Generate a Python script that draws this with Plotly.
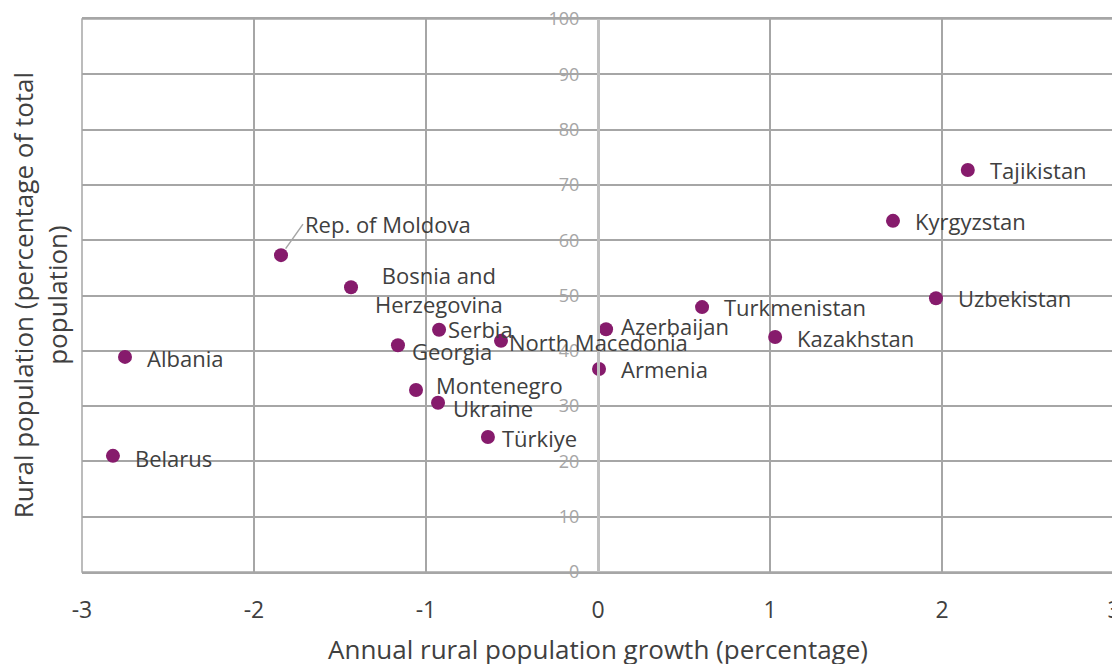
import plotly.graph_objects as go

countries = ["Tajikistan", "Kyrgyzstan", "Uzbekistan", "Kazakhstan", "Turkmenistan",
             "Azerbaijan", "Armenia", "North Macedonia", "Türkiye", "Ukraine",
             "Montenegro", "Serbia", "Georgia", "Bosnia and Herzegovina",
             "Rep. of Moldova", "Albania", "Belarus"]
growth = [2.15, 1.715, 1.965, 1.03, 0.605, 0.047, 0.006, -0.564, -0.64, -0.93,
          -1.058, -0.924, -1.163, -1.436, -1.843, -2.75, -2.82]
rural_pct = [72.7, 63.5, 49.5, 42.5, 47.9, 43.9, 36.7, 41.8, 24.4, 30.6,
             32.9, 43.8, 41.0, 51.5, 57.3, 38.9, 21.0]
x_ticks = [-3, -2, -1, 0, 1, 2, 3]
y_ticks = [0, 10, 20, 30, 40, 50, 60, 70, 80, 90, 100]

# label placement (pixel offsets from each point): xshift, yshift, anchor
label_pos = {
    "Tajikistan": (20, 0, "left"),
    "Kyrgyzstan": (20, 0, "left"),
    "Uzbekistan": (20, 0, "left"),
    "Kazakhstan": (20, -1, "left"),
    "Turkmenistan": (20, 0, "left"),
    "Azerbaijan": (13, 3, "left"),
    "Armenia": (20, 0, "left"),
    "North Macedonia": (6, -1, "left"),
    "Türkiye": (12, -1, "left"),
    "Ukraine": (13, -5, "left"),
    "Montenegro": (18, 5, "left"),
    "Serbia": (7, 1, "left"),
    "Georgia": (12, -6, "left"),
    "Albania": (20, -1, "left"),
    "Belarus": (20, -2, "left"),
}

TEXT = "#404040"
GRID = "#a6a6a6"
FONT = "Open Sans"
LBL = 22

fig = go.Figure()
fig.add_trace(go.Scatter(
    x=growth, y=rural_pct, mode="markers",
    marker=dict(color="#861B6C", size=14),
    hoverinfo="text", text=countries, showlegend=False,
))

annotations = []
for c, gx, ry in zip(countries, growth, rural_pct):
    if c == "Bosnia and Herzegovina":
        annotations.append(dict(x=gx, y=ry, text="Bosnia and<br>Herzegovina", showarrow=False,
                                xanchor="center", yanchor="middle", xshift=88, yshift=-2,
                                font=dict(family=FONT, size=LBL, color=TEXT)))
    elif c == "Rep. of Moldova":
        annotations.append(dict(x=gx, y=ry, text=c, showarrow=True, arrowhead=0,
                                arrowwidth=1.5, arrowcolor=GRID, ax=22, ay=-31,
                                standoff=8, xanchor="left", yanchor="middle",
                                font=dict(family=FONT, size=LBL, color=TEXT)))
    else:
        xs, ys, anc = label_pos[c]
        annotations.append(dict(x=gx, y=ry, text=c, showarrow=False, xanchor=anc,
                                yanchor="middle", xshift=xs, yshift=ys,
                                font=dict(family=FONT, size=LBL, color=TEXT)))

annotations.append(dict(
    xref="paper", yref="paper", x=-0.041, y=0.5,
    text="Rural population (percentage of total<br>population)",
    textangle=-90, showarrow=False, xanchor="center", yanchor="middle",
    font=dict(family=FONT, size=26, color=TEXT)))

fig.update_layout(
    width=1120, height=664,
    margin=dict(l=74, r=14, t=11, b=100, autoexpand=False),
    paper_bgcolor="white", plot_bgcolor="white",
    annotations=annotations,
    xaxis=dict(
        range=[-3, 3], tickvals=x_ticks, ticktext=[str(v) for v in x_ticks],
        showgrid=True, gridcolor=GRID, gridwidth=1.5, zeroline=False,
        showline=True, linecolor=GRID, linewidth=1.5, mirror=True,
        ticks="outside", ticklen=17, tickcolor="rgba(0,0,0,0)",
        tickfont=dict(family=FONT, size=23, color=TEXT),
        ticklabeloverflow="allow",
        title=dict(text="Annual rural population growth (percentage)",
                   font=dict(family=FONT, size=26, color=TEXT), standoff=16),
    ),
    yaxis=dict(
        range=[0, 100], tickvals=y_ticks, ticktext=[str(v) for v in y_ticks],
        anchor="free", position=0.5,
        showgrid=True, gridcolor=GRID, gridwidth=1.5, zeroline=False,
        showline=True, linecolor="#bfbfbf", linewidth=3,
        ticks="outside", ticklen=14, tickcolor="rgba(0,0,0,0)",
        tickfont=dict(family=FONT, size=18, color="#a6a6a6"),
        ticklabeloverflow="allow",
    ),
    shapes=[dict(type="rect", xref="x domain", yref="y domain", x0=0, x1=1, y0=0, y1=1,
                 line=dict(color=GRID, width=1.5), layer="below")],
)

fig.write_html("out.html")
